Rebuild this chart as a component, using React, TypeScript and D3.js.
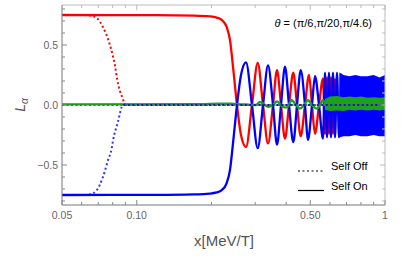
import React from 'react';
import * as d3 from 'd3';

// curves, x in MeV/T
const redOn: [number, number][] = [
  [0.05, 0.75], [0.12, 0.749], [0.17, 0.745], [0.197, 0.738], [0.21, 0.728], [0.2199, 0.71],
  [0.2303, 0.65], [0.2375, 0.54], [0.2442, 0.32], [0.2534, 0], [0.263, -0.25], [0.2755, -0.35],
  [0.2912, 0], [0.3071, 0.35], [0.3226, 0], [0.3379, -0.32], [0.3539, 0], [0.3673, 0.29],
  [0.3812, 0], [0.3955, -0.28], [0.4105, 0], [0.4272, 0.27], [0.4421, 0], [0.4576, -0.26],
  [0.4762, 0], [0.4942, 0.25], [0.5081, 0], [0.5225, -0.24], [0.5422, 0], [0.5627, 0.22],
  [0.5732, -0.24], [0.584, 0.23], [0.5948, -0.24], [0.606, 0.23], [0.6173, -0.24], [0.629, 0.22],
];
const blueOn: [number, number][] = [
  [0.05, -0.75], [0.12, -0.749], [0.17, -0.745], [0.197, -0.738], [0.21, -0.728], [0.2199, -0.71],
  [0.2303, -0.65], [0.2375, -0.54], [0.2442, -0.32], [0.2534, 0], [0.263, 0.25], [0.2755, 0.356],
  [0.2912, 0], [0.3071, -0.36], [0.3226, 0], [0.3379, 0.33], [0.3539, 0], [0.3673, -0.33],
  [0.3812, 0], [0.3955, 0.32], [0.4105, 0], [0.4272, -0.31], [0.4421, 0], [0.4576, 0.29],
  [0.4762, 0], [0.4896, -0.29], [0.5081, 0], [0.5225, 0.24], [0.5422, 0], [0.5627, -0.28],
  [0.5732, 0.27], [0.584, -0.27], [0.5948, 0.27], [0.606, -0.27], [0.6173, 0.27], [0.629, -0.27],
  [0.6407, 0.27], [0.6527, -0.27], [0.665, 0.26],
];
const greenOn: [number, number][] = [
  [0.05, 0.005], [0.18, 0.006], [0.2165, 0.01], [0.2375, 0.01], [0.2534, 0.006], [0.2755, 0.004],
  [0.2912, 0], [0.3023, 0], [0.3137, 0.025], [0.3256, 0.005], [0.3379, -0.015], [0.3539, 0],
  [0.3673, 0.03], [0.3872, -0.015], [0.403, -0.02], [0.4209, 0.04], [0.438, 0], [0.4546, -0.03],
  [0.4718, 0], [0.4896, 0.04], [0.5081, 0], [0.5308, -0.03], [0.5473, 0], [0.5627, 0.04], [0.575, 0],
];
const redOff: [number, number][] = [
  [0.05, 0.75], [0.062, 0.749], [0.0648, 0.745], [0.069, 0.725], [0.0731, 0.65], [0.078, 0.5],
  [0.0817, 0.33], [0.084, 0.18], [0.0872, 0.07], [0.0905, 0], [1, 0],
];
const blueOff: [number, number][] = [
  [0.05, -0.75], [0.062, -0.749], [0.0648, -0.745], [0.069, -0.71], [0.0731, -0.6], [0.0766, -0.46],
  [0.0793, -0.36], [0.0802, -0.3], [0.084, -0.14], [0.088, 0], [1, 0],
];
const greenOff: [number, number][] = [[0.05, 0], [1, 0]];

// dense fast oscillation region, drawn as envelopes
const bandX = [0.655, 0.68, 0.72, 0.76, 0.8, 0.85, 0.9, 0.95, 1.0];
const blueTop = [0.27, 0.25, 0.24, 0.25, 0.24, 0.24, 0.25, 0.23, 0.25];
const blueBottom = [-0.27, -0.26, -0.26, -0.25, -0.26, -0.26, -0.25, -0.26, -0.26];
const greenX = [0.573, 0.6, 0.64, 0.68, 0.72, 0.76, 0.8, 0.85, 0.9, 0.95, 1.0];
const greenTop = [0.05, 0.07, 0.075, 0.065, 0.07, 0.065, 0.07, 0.06, 0.065, 0.06, 0.065];
const greenBottom = [-0.04, -0.05, -0.045, -0.05, -0.04, -0.045, -0.04, -0.045, -0.04, -0.045, -0.04];

const xMajor = [0.05, 0.1, 0.5, 1];
const xMajorLabels = ['0.05', '0.10', '0.50', '1'];
const xMinor = [0.06, 0.07, 0.08, 0.09, 0.2, 0.3, 0.4, 0.6, 0.7, 0.8, 0.9];
const yMajor = [-0.5, 0, 0.5];
const yMajorLabels = ['\u22120.5', '0.0', '0.5'];
const yMinor = [-0.8, -0.7, -0.6, -0.4, -0.3, -0.2, -0.1, 0.1, 0.2, 0.3, 0.4, 0.6, 0.7, 0.8];

const W = 415;
const H = 260;
const L = 62, R = 385, T = 5, B = 205;
const font = 'Liberation Sans, Arial, sans-serif';

export default function App() {
  const x = d3.scaleLog().domain([0.05, 1]).range([L, R]);
  const y = d3.scaleLinear().domain([-0.8333, 0.8333]).range([B, T]);

  const line = d3.line<[number, number]>()
    .x(d => x(d[0]))
    .y(d => y(d[1]))
    .curve(d3.curveMonotoneX);

  const area = (xs: number[], top: number[], bot: number[]) =>
    d3.area<number>()
      .x(d => x(d))
      .y0((_, i) => y(bot[i]))
      .y1((_, i) => y(top[i]))
      .curve(d3.curveLinear)(xs) || '';

  const tickCol = '#888';
  const labCol = '#666';

  return (
    <svg width={W} height={H} style={{ position: 'absolute', left: 0, top: 0, background: '#fff' }}>
      <defs>
        <clipPath id="plot">
          <rect x={L} y={T} width={R - L} height={B - T} />
        </clipPath>
      </defs>

      <g clipPath="url(#plot)" fill="none" strokeLinejoin="round">
        <path d={line(redOn) || ''} stroke="#ff0000" strokeWidth={2.3} />
        <path d={line(blueOn) || ''} stroke="#0000ff" strokeWidth={2.3} />
        <path d={area(bandX, blueTop, blueBottom)} fill="#0000ff" stroke="none" />
        <path d={line(greenOn) || ''} stroke="#1aa31a" strokeWidth={2.4} />
        <path d={area(greenX, greenTop, greenBottom)} fill="#1aa31a" stroke="none" />
        <path d={line(redOff) || ''} stroke="#ff0000" strokeWidth={2} strokeDasharray="2 2.5" />
        <path d={line(greenOff) || ''} stroke="#2d8a2d" strokeWidth={2} strokeDasharray="2 2.5" />
        <path d={line(blueOff) || ''} stroke="#0000ff" strokeWidth={2} strokeDasharray="2 2.5" strokeOpacity={0.8} />
      </g>

      {/* frame */}
      <line x1={L} x2={R} y1={T} y2={T} stroke="#bbb" />
      <line x1={R} x2={R} y1={T} y2={B} stroke="#bbb" />
      <line x1={L} x2={R} y1={B} y2={B} stroke="#777" />
      <line x1={L} x2={L} y1={T} y2={B} stroke="#777" />

      {/* x ticks */}
      {xMajor.map(v => (
        <g key={'xm' + v}>
          <line x1={x(v)} x2={x(v)} y1={B} y2={B - 5} stroke={tickCol} />
          <line x1={x(v)} x2={x(v)} y1={T} y2={T + 5} stroke="#bbb" />
        </g>
      ))}
      {xMinor.map(v => (
        <g key={'xn' + v}>
          <line x1={x(v)} x2={x(v)} y1={B} y2={B - 3} stroke={tickCol} />
          <line x1={x(v)} x2={x(v)} y1={T} y2={T + 3} stroke="#bbb" />
        </g>
      ))}
      {xMajor.map((v, i) => (
        <text key={'xl' + v} x={x(v)} y={219} textAnchor="middle" fontFamily={font} fontSize={10.5} fill={labCol}>
          {xMajorLabels[i]}
        </text>
      ))}

      {/* y ticks */}
      {yMajor.map(v => (
        <g key={'ym' + v}>
          <line x1={L} x2={L + 5} y1={y(v)} y2={y(v)} stroke={tickCol} />
          <line x1={R} x2={R - 5} y1={y(v)} y2={y(v)} stroke="#bbb" />
        </g>
      ))}
      {yMinor.map(v => (
        <g key={'yn' + v}>
          <line x1={L} x2={L + 3} y1={y(v)} y2={y(v)} stroke={tickCol} />
          <line x1={R} x2={R - 3} y1={y(v)} y2={y(v)} stroke="#bbb" />
        </g>
      ))}
      {yMajor.map((v, i) => (
        <text key={'yl' + v} x={58} y={y(v) + 4} textAnchor="end" fontFamily={font} fontSize={10.5} fill={labCol}>
          {yMajorLabels[i]}
        </text>
      ))}

      {/* axis labels */}
      <text x={224} y={246} textAnchor="middle" fontFamily={font} fontSize={15} fill="#555">x[MeV/T]</text>
      <text transform="translate(25,105) rotate(-90)" textAnchor="middle" fontFamily={font} fontSize={14} fill="#555">
        <tspan fontStyle="italic">L</tspan>
        <tspan fontStyle="italic" fontSize={10} dy={3}>α</tspan>
      </text>

      {/* annotation */}
      <text x={372} y={27} textAnchor="end" fontFamily={font} fontSize={11} fill="#000">
        <tspan fontStyle="italic">θ</tspan> = (π/6,π/20,π/4.6)
      </text>

      {/* legend */}
      <line x1={298} x2={324} y1={171} y2={171} stroke="#000" strokeWidth={1.2} strokeDasharray="2 2.5" />
      <text x={331} y={169.5} fontFamily={font} fontSize={11} fill="#000">Self Off</text>
      <line x1={298} x2={324} y1={190.5} y2={190.5} stroke="#000" strokeWidth={1.2} />
      <text x={331} y={189.5} fontFamily={font} fontSize={11} fill="#000">Self On</text>
    </svg>
  );
}
